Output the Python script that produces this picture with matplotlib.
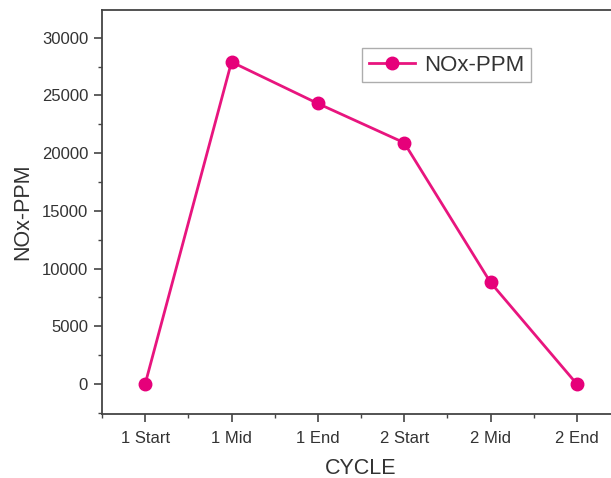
import matplotlib
matplotlib.use("Agg")
import matplotlib.pyplot as plt
from matplotlib.ticker import MultipleLocator

plt.rcParams['font.family'] = ['Liberation Sans', 'DejaVu Sans']

categories = ["1 Start", "1 Mid", "1 End", "2 Start", "2 Mid", "2 End"]
nox_ppm = [0, 27900, 24300, 20900, 8800, 0]

W, H = 611, 478
fig = plt.figure(figsize=(W/100, H/100), dpi=100)
ax = fig.add_axes([102/W, 1 - 414/H, (620-102)/W, (414-10)/H])

x = list(range(len(categories)))
ax.plot(x, nox_ppm, color='#E8157E', lw=2, marker='o', markersize=9,
        markerfacecolor='#E6007A', markeredgecolor='#E6007A', label='NOx-PPM')

ax.set_xlim(-0.5, 5.5)
ax.set_ylim(-2600, 32400)
ax.set_xticks(x)
ax.set_xticklabels(categories)
ax.set_xticks([i + 0.5 for i in range(-1, 6)], minor=True)
ax.yaxis.set_major_locator(MultipleLocator(5000))
ax.yaxis.set_minor_locator(MultipleLocator(2500))
ax.tick_params(axis='both', which='major', direction='out', length=6, width=1.2,
               labelsize=12, colors='#444444', labelcolor='#333333', pad=4)
ax.tick_params(axis='x', which='major', pad=6)
ax.tick_params(axis='both', which='minor', direction='out', length=3, width=1, colors='#444444')
for s in ax.spines.values():
    s.set_color('#444444')
    s.set_linewidth(1.3)

ax.set_xlabel('CYCLE', fontsize=15.5, color='#333333', labelpad=9)
ax.set_ylabel('NOx-PPM', fontsize=15.5, color='#333333', labelpad=6)

leg = ax.legend(loc='upper left', bbox_to_anchor=((362-102)/518, 1 - (48-10)/404),
                fontsize=16, frameon=True, fancybox=False, edgecolor='#999999',
                handlelength=2.1, borderpad=0.3, borderaxespad=0, handletextpad=0.4)
leg.get_frame().set_linewidth(1)
for t in leg.get_texts():
    t.set_color('#333333')

fig.savefig('out.png', dpi=100)
